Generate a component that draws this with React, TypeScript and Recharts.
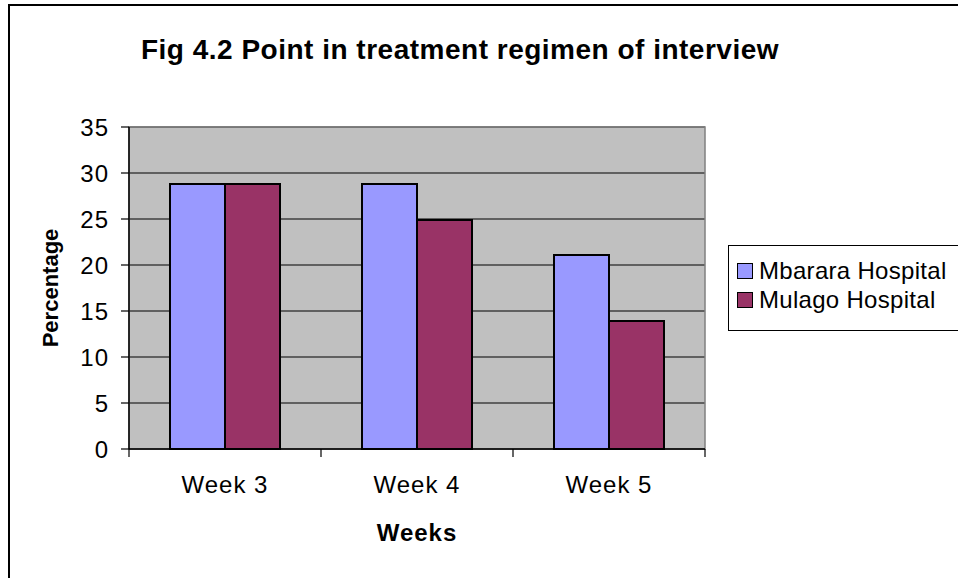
import {
  BarChart,
  Bar,
  XAxis,
  YAxis,
  CartesianGrid,
  Legend,
  ReferenceArea,
  Label,
} from "recharts";

const weeks = ["Week 3", "Week 4", "Week 5"];
const mbarara = [28.8, 28.8, 21.1];
const mulago = [28.8, 24.9, 13.9];
const yTicks = [0, 5, 10, 15, 20, 25, 30, 35];

const data = weeks.map((w, i) => ({ week: w, mbarara: mbarara[i], mulago: mulago[i] }));

const font = "Arial, 'Liberation Sans', sans-serif";
const X_TICK_GAP = 27;

const renderLegend = (props: any) => {
  const items = props.payload || [];
  return (
    <div
      style={{
        border: "1px solid #000",
        background: "#fff",
        width: 240,
        height: 86,
        boxSizing: "border-box",
        padding: "10px 0 0 8px",
        fontFamily: font,
      }}
    >
      {items.map((p: any) => (
        <div key={p.value} style={{ display: "flex", alignItems: "center", height: 29 }}>
          <span
            style={{
              display: "inline-block",
              width: 14,
              height: 14,
              background: p.color,
              border: "1.5px solid #000",
              marginRight: 6,
            }}
          />
          <span style={{ fontSize: 24, color: "#000", letterSpacing: 0.3 }}>{p.value}</span>
        </div>
      ))}
    </div>
  );
};

const yLabel = (props: any) => {
  const vb = props.viewBox;
  const cx = vb.x + 58;
  const cy = vb.y + vb.height / 2;
  return (
    <text
      x={cx}
      y={cy}
      transform={`rotate(-90 ${cx} ${cy})`}
      textAnchor="middle"
      fontFamily={font}
      fontWeight="bold"
      fontSize={22}
      fill="#000"
    >
      Percentage
    </text>
  );
};

// week label plus the tick marks at the category edges
const WeekTick = (props: any) => {
  const { x, y, payload, index, visibleTicksCount } = props;
  const half = payload.offset || 0;
  const axisY = y - X_TICK_GAP;
  const isLast = index === visibleTicksCount - 1;
  return (
    <g>
      <line x1={x - half} x2={x - half} y1={axisY} y2={axisY + 8} stroke="#000" strokeWidth={1.2} />
      {isLast && (
        <line x1={x + half} x2={x + half} y1={axisY} y2={axisY + 8} stroke="#000" strokeWidth={1.2} />
      )}
      <text
        x={x}
        y={y}
        dy="0.71em"
        textAnchor="middle"
        fill="#000"
        fontSize={24}
        fontFamily={font}
        letterSpacing={1}
      >
        {payload.value}
      </text>
    </g>
  );
};

export default function App() {
  return (
    <div
      style={{
        position: "absolute",
        left: 0,
        top: 0,
        width: 958,
        height: 578,
        overflow: "hidden",
        background: "#fff",
        fontFamily: font,
      }}
    >
      <div
        style={{
          position: "absolute",
          left: 8,
          top: 4,
          width: 950,
          height: 574,
          borderLeft: "2px solid #000",
          borderTop: "2px solid #000",
        }}
      />
      <div
        style={{
          position: "absolute",
          left: 0,
          top: 36,
          width: 920,
          textAlign: "center",
          fontSize: 28,
          lineHeight: "28px",
          fontWeight: "bold",
          letterSpacing: 0.5,
          color: "#000",
          zIndex: 2,
        }}
      >
        Fig 4.2 Point in treatment regimen of interview
      </div>
      <BarChart
        width={958}
        height={578}
        data={data}
        margin={{ top: 127, right: 253, left: 0, bottom: 29 }}
        barCategoryGap={41}
        barGap={0}
      >
        <CartesianGrid fill="#C0C0C0" stroke="#000" strokeWidth={1.2} vertical={false} />
        <ReferenceArea y1={0} y2={35} fill="none" stroke="#808080" strokeWidth={1.5} />
        <XAxis
          dataKey="week"
          height={100}
          tickLine={false}
          tickSize={0}
          tickMargin={X_TICK_GAP}
          axisLine={{ stroke: "#000", strokeWidth: 1.5 }}
          tick={<WeekTick />}
          interval={0}
        >
          <Label
            value="Weeks"
            position="insideBottom"
            offset={8}
            style={{ fontWeight: "bold", fontSize: 24, fill: "#000", fontFamily: font, letterSpacing: 1 }}
          />
        </XAxis>
        <YAxis
          domain={[0, 35]}
          ticks={yTicks}
          width={129}
          tickSize={8}
          tickMargin={12}
          tickLine={{ stroke: "#000", strokeWidth: 1.2 }}
          axisLine={{ stroke: "#000", strokeWidth: 1.5 }}
          tick={{ fill: "#000", fontSize: 24, fontFamily: font, letterSpacing: 1 }}
          interval={0}
        >
          <Label content={yLabel} />
        </YAxis>
        <Legend
          layout="horizontal"
          verticalAlign="middle"
          align="center"
          content={renderLegend}
          wrapperStyle={{ position: "absolute", left: 728, top: 245, width: 240, height: 86 }}
        />
        <Bar
          dataKey="mbarara"
          name="Mbarara Hospital"
          fill="#9999FF"
          stroke="#000"
          strokeWidth={2}
          isAnimationActive={false}
        />
        <Bar
          dataKey="mulago"
          name="Mulago Hospital"
          fill="#993366"
          stroke="#000"
          strokeWidth={2}
          isAnimationActive={false}
        />
      </BarChart>
    </div>
  );
}
